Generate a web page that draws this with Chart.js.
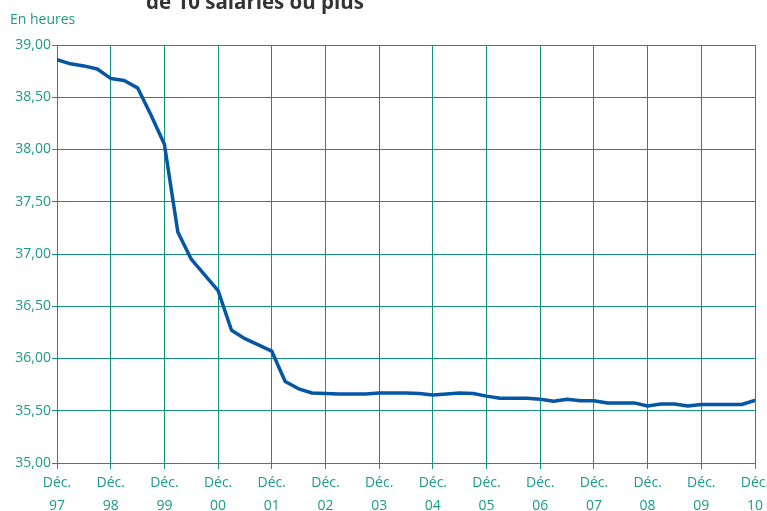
<!DOCTYPE html>
<html>
<head>
<meta charset="utf-8">
<script src="https://cdn.jsdelivr.net/npm/chart.js@4"></script>
<style>
  html, body { margin: 0; padding: 0; background: #ffffff; }
  #wrap { position: relative; width: 767px; height: 511px; overflow: hidden; }
  #title { position: absolute; left: 0; width: 510px; top: -13px; text-align: center;
           font: bold 20.5px "Open Sans", sans-serif; color: #333333; white-space: nowrap; }
  #unit { position: absolute; left: 10px; top: 9px; font: 14px "Open Sans", sans-serif; color: #1d9a88; }
  #cv { position: absolute; left: 0; top: 0; }
</style>
</head>
<body>
<div id="wrap">
  <canvas id="cv" width="767" height="511"></canvas>
  <div id="title">de 10 salariés ou plus</div>
  <div id="unit">En heures</div>
</div>
<script>
// Quarterly values, Déc. 97 -> Déc. 10 (53 points)
const hours = [
  38.86, 38.82, 38.80, 38.77, 38.68, 38.66, 38.59, 38.33, 38.05, 37.21,
  36.95, 36.80, 36.65, 36.27, 36.19, 36.13, 36.07, 35.78, 35.71, 35.67,
  35.665, 35.66, 35.66, 35.66, 35.67, 35.67, 35.67, 35.665, 35.65, 35.66,
  35.67, 35.665, 35.64, 35.62, 35.62, 35.62, 35.61, 35.59, 35.61, 35.595,
  35.595, 35.575, 35.575, 35.575, 35.545, 35.565, 35.565, 35.545, 35.56, 35.56,
  35.56, 35.56, 35.60
];
const monthLabel = 'Déc.';
const yearLabels = ['97','98','99','00','01','02','03','04','05','06','07','08','09','10'];
const yTicks = [35, 35.5, 36, 36.5, 37, 37.5, 38, 38.5, 39];

const teal = '#1d9a88';
const gridTeal = '#14917f';
const fontFam = '"Open Sans", sans-serif';

const points = hours.map((v, i) => ({ x: i, y: v }));

new Chart(document.getElementById('cv'), {
  type: 'line',
  data: {
    datasets: [{
      data: points,
      borderColor: '#0656a6',
      borderWidth: 3.5,
      pointRadius: 0,
      tension: 0,
      fill: false,
      borderJoinStyle: 'round',
      borderCapStyle: 'round'
    }]
  },
  options: {
    responsive: false,
    animation: false,
    layout: { padding: { top: 45, right: 12, left: 0, bottom: 0 } },
    plugins: { legend: { display: false }, tooltip: { enabled: false } },
    scales: {
      x: {
        type: 'linear',
        min: 0,
        max: (yearLabels.length - 1) * 4,
        afterBuildTicks: (axis) => { axis.ticks = yearLabels.map((_, i) => ({ value: i * 4 })); },
        ticks: {
          color: teal,
          font: { family: fontFam, size: 14, lineHeight: 1.65 },
          padding: 2,
          maxRotation: 0,
          autoSkip: false,
          callback: (v) => [monthLabel, yearLabels[Math.round(v / 4)]]
        },
        grid: { color: gridTeal, lineWidth: 1, tickLength: 6, drawTicks: true },
        border: { display: false },
        afterFit: (axis) => { axis.height = 48; axis.paddingRight = 0; axis.paddingLeft = 0; }
      },
      y: {
        min: 35,
        max: 39,
        afterBuildTicks: (axis) => { axis.ticks = yTicks.map(v => ({ value: v })); },
        ticks: {
          color: teal,
          font: { family: fontFam, size: 14 },
          padding: 1,
          callback: (v) => v.toFixed(2).replace('.', ',')
        },
        grid: { color: gridTeal, lineWidth: 1, tickLength: 5, drawTicks: true },
        border: { display: false },
        afterFit: (axis) => { axis.width = 57; axis.paddingTop = 0; axis.paddingBottom = 0; }
      }
    }
  }
});
</script>
</body>
</html>
